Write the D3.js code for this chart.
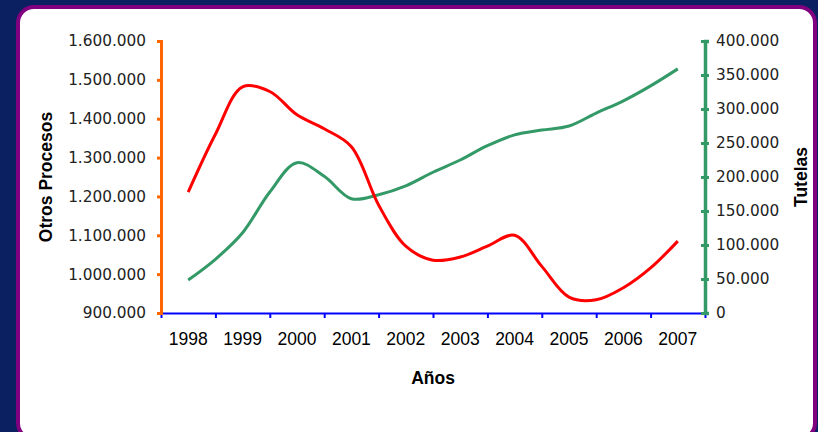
<!DOCTYPE html>
<html>
<head>
<meta charset="utf-8">
<script src="https://cdn.jsdelivr.net/npm/d3@7/dist/d3.min.js"></script>
<style>
  html, body { margin: 0; padding: 0; background: #0a2060; }
  svg { display: block; }
</style>
</head>
<body>
<svg id="chart" width="818" height="432"></svg>
<script>
// ---- data ----
const years = ["1998","1999","2000","2001","2002","2003","2004","2005","2006","2007"];
const periods = [1998, 1998.5, 1999, 1999.5, 2000, 2000.5, 2001, 2001.5, 2002, 2002.5,
                 2003, 2003.5, 2004, 2004.5, 2005, 2005.5, 2006, 2006.5, 2007];
const otrosProcesos = [1211000, 1360000, 1482000, 1470000, 1410000, 1374000, 1328000, 1178000, 1072000, 1036000,
                       1044000, 1072000, 1100000, 1020000, 941000, 934000, 965000, 1016000, 1085000];
const tutelas = [48500, 79000, 118000, 178000, 221000, 201000, 168000, 174000, 187000, 207000,
                 225000, 246000, 262000, 269000, 275000, 294000, 312000, 334000, 359000];
const leftTicks = [900000, 1000000, 1100000, 1200000, 1300000, 1400000, 1500000, 1600000];
const rightTicks = [0, 50000, 100000, 150000, 200000, 250000, 300000, 350000, 400000];

const svg = d3.select("#chart");
const W = 818, H = 432;

// background panel
svg.append("rect").attr("x", 0).attr("y", 0).attr("width", W).attr("height", H).attr("fill", "#0a2060");
svg.append("rect").attr("x", 18).attr("y", 7).attr("width", 797).attr("height", 432)
  .attr("rx", 16).attr("ry", 16)
  .attr("fill", "#ffffff").attr("stroke", "#800080").attr("stroke-width", 4);

const plot = {left: 161, right: 705, top: 41, bottom: 313};

const x = d3.scaleLinear().domain([1997.5, 2007.5]).range([plot.left, plot.right]);
const yL = d3.scaleLinear().domain([900000, 1600000]).range([plot.bottom, plot.top]);
const yR = d3.scaleLinear().domain([0, 400000]).range([plot.bottom, plot.top]);

const loc = d3.formatLocale({decimal: ",", thousands: ".", grouping: [3], currency: ["", ""]});
const fmt = loc.format(",d");

// x axis (ticks at category boundaries)
const boundaries = d3.range(0, years.length + 1).map(i => 1997.5 + i);
const xAxis = svg.append("g").attr("transform", `translate(0,${plot.bottom})`)
  .call(d3.axisBottom(x).tickValues(boundaries).tickSize(5).tickSizeOuter(0).tickFormat(""));
xAxis.select(".domain").attr("stroke", "#0000ff").attr("stroke-width", 2);
xAxis.selectAll(".tick line").attr("stroke", "#0000ff").attr("stroke-width", 2);

svg.append("g").selectAll("text").data(years).join("text")
  .attr("x", d => x(+d)).attr("y", 345)
  .attr("text-anchor", "middle")
  .attr("font-family", "'Liberation Sans', Arial, sans-serif")
  .attr("font-size", 17.5).attr("fill", "#000")
  .text(d => d);

// left axis
const lAxis = svg.append("g").attr("transform", `translate(${plot.left},0)`)
  .call(d3.axisLeft(yL).tickValues(leftTicks).tickSize(4).tickSizeOuter(4).tickPadding(11).tickFormat(fmt));
lAxis.select(".domain").attr("stroke", "#ff6600").attr("stroke-width", 3);
lAxis.selectAll(".tick line").attr("stroke", "#ff6600").attr("stroke-width", 3);
lAxis.selectAll(".tick text").attr("font-family", "'DejaVu Sans', Verdana, sans-serif")
  .attr("font-size", 15.3).attr("fill", "#222");

// right axis
const rAxis = svg.append("g").attr("transform", `translate(${plot.right},0)`)
  .call(d3.axisRight(yR).tickValues(rightTicks).tickSize(4).tickSizeOuter(4).tickPadding(7).tickFormat(fmt));
rAxis.select(".domain").attr("stroke", "#339966").attr("stroke-width", 3.5);
rAxis.selectAll(".tick line").attr("stroke", "#339966").attr("stroke-width", 3)
  .attr("x1", -4).attr("x2", 4);
rAxis.selectAll(".tick text").attr("font-family", "'DejaVu Sans', Verdana, sans-serif")
  .attr("font-size", 15.3).attr("fill", "#222");

// lines
const lineL = d3.line().x((d, i) => x(periods[i])).y(d => yL(d)).curve(d3.curveCatmullRom.alpha(0.5));
const lineR = d3.line().x((d, i) => x(periods[i])).y(d => yR(d)).curve(d3.curveCatmullRom.alpha(0.5));

svg.append("path").datum(tutelas).attr("d", lineR)
  .attr("fill", "none").attr("stroke", "#339966").attr("stroke-width", 3).attr("stroke-linejoin", "round");
svg.append("path").datum(otrosProcesos).attr("d", lineL)
  .attr("fill", "none").attr("stroke", "#ff0000").attr("stroke-width", 3).attr("stroke-linejoin", "round");

// axis titles
const titleFont = "'Liberation Sans', Arial, sans-serif";
svg.append("text").attr("x", 433).attr("y", 384).attr("text-anchor", "middle")
  .attr("font-family", titleFont).attr("font-weight", "bold").attr("font-size", 17.5).text("Años");
svg.append("text").attr("transform", "translate(52,177) rotate(-90)").attr("text-anchor", "middle")
  .attr("font-family", titleFont).attr("font-weight", "bold").attr("font-size", 17.5).text("Otros Procesos");
svg.append("text").attr("transform", "translate(807,177) rotate(-90)").attr("text-anchor", "middle")
  .attr("font-family", titleFont).attr("font-weight", "bold").attr("font-size", 17.5).text("Tutelas");
</script>
</body>
</html>
